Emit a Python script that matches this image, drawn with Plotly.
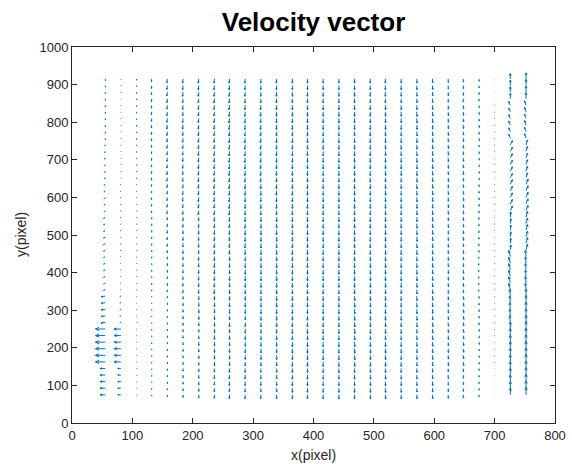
import math
import plotly.graph_objects as go

# ---- data -------------------------------------------------------------
# column x positions (pixel)
X_COLS = [55, 81, 107, 132, 158, 184, 210, 236, 261, 287, 313, 339, 365, 390,
          416, 442, 468, 494, 519, 545, 571, 597, 623, 648, 674, 700, 726, 752]
# row y positions (pixel)
Y_ROWS = [75, 92.5, 110, 127.5, 145, 162.5, 180, 197.5, 215, 232.5, 250, 267.5,
          285, 302.5, 320, 337.5, 355, 372.5, 390, 407.5, 425, 442.5, 460, 477.5,
          495, 512.5, 530, 547.5, 565, 582.5, 600, 617.5, 635, 652.5, 670, 687.5,
          705, 722.5, 740, 757.5, 775, 792.5, 810, 827.5, 845, 862.5, 880, 897.5, 915]
# height bands at which the velocity was read (each row takes nearest band)
BAND_Y = [100, 200, 300, 400, 500, 600, 700, 800, 900]

# horizontal velocity, one row per column, one value per band
U_READ = [
    [-10, -19, -8, -3, -3, -2, -1, 0.5, 0.5],
    [-6, -13, -2, -1, -1, -1, 0, 0, 0],
    [0, -1, 0, 0, 0, 0, 0, 0, 0],
    [0, 0, 0, 0, 0, -0.5, -0.5, -0.5, -0.5],
    [0, 0, 0, 0, -0.5, -1, -1, -1, -1],
    [0, 0, 0, -0.5, -0.5, -1, -1, -1, -1],
    [0, 0, 0, -0.5, -0.5, -1, -1, -1, -1],
    [-0.5, 0, 0, -0.5, -0.5, -1, -1, -1, -1],
    [-0.5, 0, 0, 0, -0.5, -1, -1, -1, -1],
    [-0.5, 0, 0, 0, -0.5, -0.5, -1, -1, -1],
    [-0.5, 0, 0, 0, 0, -0.5, -1, -1, -0.5],
    [0, 0, 0, 0, 0, -0.5, -0.5, -0.5, -0.5],
    [0, 0, 0, 0, 0, 0, 0, 0, 0],
    [0, 0, 0, 0, 0, 0, 0, 0, 0],
    [0, 0, 0, 0, 0, 0, 0, 0, 0],
    [0, 0, 0, 0, 0, 0, 0, 0, 0],
    [0, 0.5, 0.5, 0, 0, 0, 0, 0, 0],
    [0.5, 0.5, 0.5, 0.5, 0, 0, 0, 0, 0],
    [0.5, 0.5, 0.5, 0.5, 0.5, 0.5, 0.5, 0.5, 0],
    [0.5, 0.5, 0.5, 0.5, 0.5, 0.5, 0.5, 0.5, 0.5],
    [0.5, 0.7, 0.7, 0.7, 0.7, 0.7, 0.7, 0.7, 0.5],
    [0.5, 0.7, 0.7, 0.7, 0.7, 0.7, 0.7, 0.7, 0.5],
    [0.5, 0.7, 0.7, 0.7, 0.7, 0.7, 0.7, 0.7, 0.5],
    [0.5, 1, 1, 0.7, 0.7, 0.7, 0.7, 0.7, 0.5],
    [0.5, 1, 0.5, -0.5, 0, 0.5, 1, 1, 0.5],
    [0, 0, 0, 0, 0, 0, 0, 0, 0],
    [0, 0, -1, -3, 1, 4, 4, -3, 0],
    [0, 0, 0, -1, 3, 4, 3, -3, 0],
]
# vertical velocity, one row per column, one value per band
V_READ = [
    [0, 0, -2, -3, -4, -4, -4, -5, -5],
    [0, 0, -1, -1, -2, -2, -1.5, -1.5, -1.5],
    [-1.5, -1, -1.5, -2, -2, -2, -3, -4, -4],
    [-4, -4, -3, -5, -6, -7, -8, -9, -9],
    [-6, -6, -6, -8, -9, -10, -11, -12, -12],
    [-8, -8, -9, -10, -11, -12, -12, -13, -13],
    [-10, -10, -11, -12, -12, -13, -13, -13, -13],
    [-11, -12, -12, -13, -13, -13, -13, -13, -13],
    [-12, -12, -13, -13, -13, -14, -14, -14, -13],
    [-12, -13, -13, -14, -14, -14, -14, -14, -13],
    [-12, -13, -14, -14, -14, -14, -14, -14, -13],
    [-12, -13, -14, -14, -14, -14, -14, -14, -13],
    [-13, -14, -14, -14, -14, -14, -14, -14, -13],
    [-13, -14, -14, -14, -14, -14, -14, -14, -13],
    [-13, -14, -14, -14, -14, -14, -14, -14, -13],
    [-13, -14, -14, -14, -14, -14, -14, -14, -13],
    [-13, -14, -14, -14, -14, -14, -14, -14, -13],
    [-13, -14, -14, -14, -14, -14, -14, -14, -13],
    [-13, -14, -14, -14, -14, -14, -14, -14, -13],
    [-13, -14, -14, -14, -14, -14, -14, -14, -13],
    [-12, -13, -14, -14, -14, -14, -14, -14, -13],
    [-12, -13, -13, -13, -13, -13, -13, -13, -12],
    [-11, -12, -12, -12, -12, -12, -12, -12, -11],
    [-10, -11, -11, -11, -11, -11, -11, -11, -10],
    [-6, -7, -7, -6, -7, -7, -7, -8, -7],
    [-1, -1.5, -1.5, -1.5, -1.5, -1.5, -1.5, -1.5, -1],
    [21, 22, 21, 19, 16, 14, 13, 12, 17],
    [23, 23, 22, 20, 18, 16, 15, 14, 19],
]

TITLE = "Velocity vector"
X_LABEL = "x(pixel)"
Y_LABEL = "y(pixel)"

# ---- layout geometry ----------------------------------------------------
W, H = 572, 464
M_L, M_R, M_T, M_B = 72, 17, 47, 41
X_RANGE = [0, 800]
Y_RANGE = [0, 1000]
kx = (W - M_L - M_R) / (X_RANGE[1] - X_RANGE[0])   # px per x unit
ky = (H - M_T - M_B) / (Y_RANGE[1] - Y_RANGE[0])   # px per y unit

QUIVER_SCALE = 0.85
HEAD_FRAC = 0.4
HEAD_ANG = math.radians(24)


def nearest_band(y):
    best = 0
    for i, b in enumerate(BAND_Y):
        if abs(b - y) < abs(BAND_Y[best] - y):
            best = i
    return best


qx, qy = [], []
for ci, xc in enumerate(X_COLS):
    for yr in Y_ROWS:
        bi = nearest_band(yr)
        u = U_READ[ci][bi] * QUIVER_SCALE
        v = V_READ[ci][bi] * QUIVER_SCALE
        tx, ty = xc + u, yr + v
        qx += [xc, tx, None]
        qy += [yr, ty, None]
        # arrow head computed in screen space
        dxp, dyp = u * kx, v * ky
        L = math.hypot(dxp, dyp)
        if L > 0:
            ang = math.atan2(dyp, dxp)
            h = HEAD_FRAC * L
            hx = []
            hy = []
            for s in (1, -1):
                a = ang + math.pi + s * HEAD_ANG
                hx.append(tx + h * math.cos(a) / kx)
                hy.append(ty + h * math.sin(a) / ky)
            qx += [hx[0], tx, hx[1], None]
            qy += [hy[0], ty, hy[1], None]

fig = go.Figure()
fig.add_trace(go.Scatter(x=qx, y=qy, mode="lines",
                         line=dict(color="#0072BD", width=1),
                         hoverinfo="skip", showlegend=False))

axis_common = dict(showline=True, linecolor="#262626", linewidth=1,
                   mirror="ticks", ticks="inside", ticklen=5, tickwidth=1,
                   tickcolor="#262626", showgrid=False, zeroline=False,
                   automargin=False,
                   tickfont=dict(family="Liberation Sans, Arial", size=13,
                                 color="#262626"))

FONT = "Liberation Sans, Arial"
fig.update_layout(
    width=W, height=H,
    margin=dict(l=M_L, r=M_R, t=M_T, b=M_B, pad=0),
    paper_bgcolor="white", plot_bgcolor="white",
    title=dict(text="<b>" + TITLE + "</b>", x=0.5, xref="paper",
               y=1 - 22 / H, yref="container", yanchor="middle",
               font=dict(family=FONT, size=26, color="black")),
    xaxis=dict(range=X_RANGE, dtick=100, tick0=0, **axis_common),
    yaxis=dict(range=Y_RANGE, dtick=100, tick0=0, **axis_common),
    annotations=[
        dict(text=X_LABEL, xref="paper", yref="paper", x=0.5,
             y=-(455 - (H - M_B)) / (H - M_T - M_B), yanchor="middle",
             xanchor="center", showarrow=False,
             font=dict(family=FONT, size=14, color="#262626")),
        dict(text=Y_LABEL, xref="paper", yref="paper",
             x=-(M_L - 21) / (W - M_L - M_R), y=0.5, xanchor="center",
             yanchor="middle", textangle=-90, showarrow=False,
             font=dict(family=FONT, size=14, color="#262626")),
    ],
)

fig.write_html("out.html")
